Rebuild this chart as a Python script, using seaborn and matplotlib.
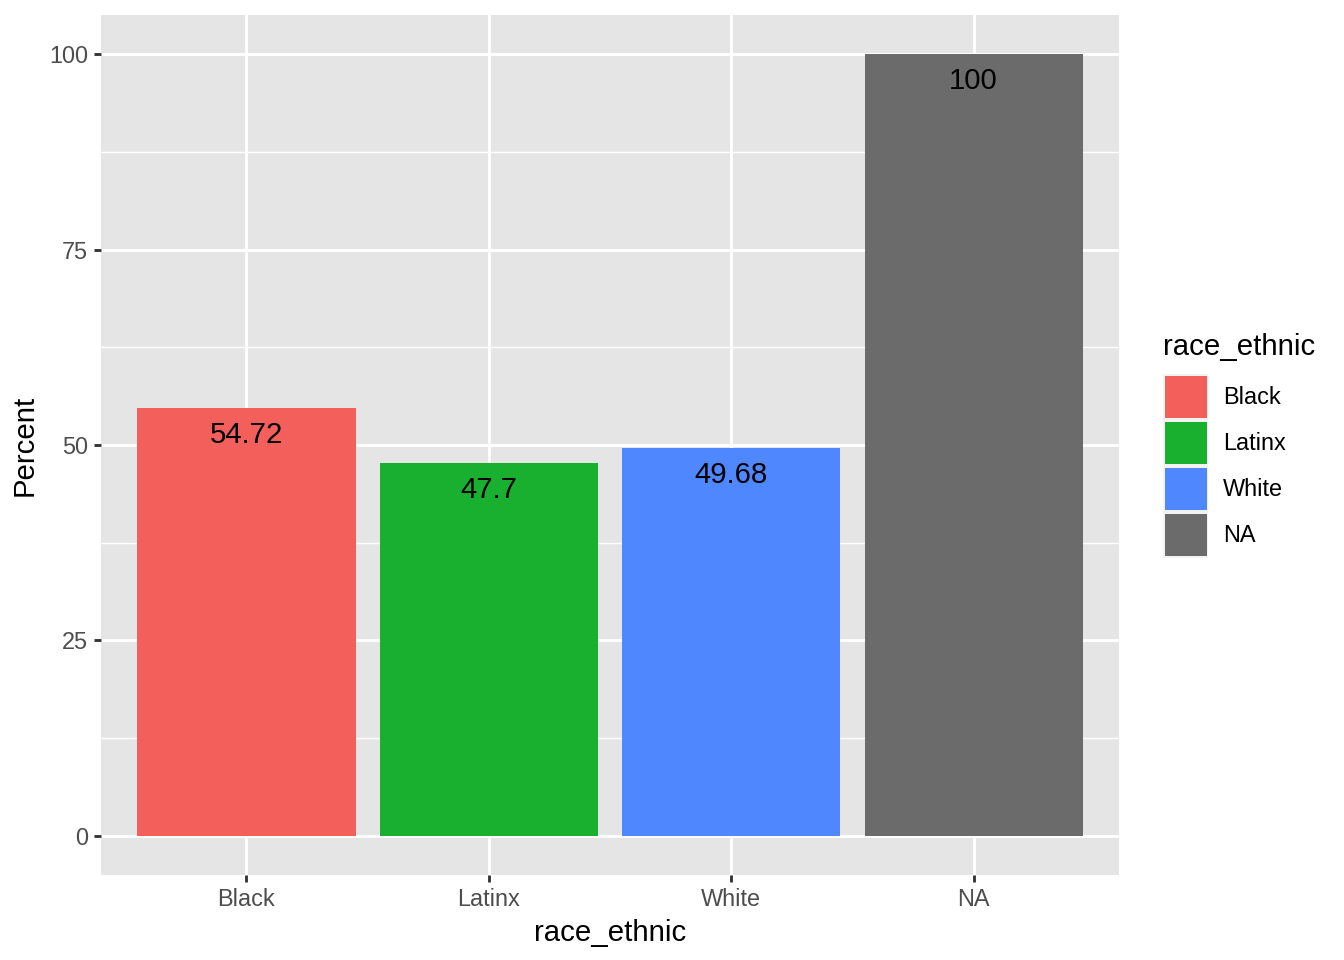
import matplotlib
matplotlib.use("Agg")
import matplotlib.pyplot as plt
from matplotlib.patches import Rectangle
from matplotlib.ticker import MultipleLocator
import seaborn as sns
import pandas as pd

categories = ["Black", "Latinx", "White", "NA"]
percent = [54.72, 47.7, 49.68, 100]
labels = ["54.72", "47.7", "49.68", "100"]
colors = ["#F3605B", "#1AB02F", "#4F87FF", "#6B6B6B"]

sns.set_theme(style="darkgrid")
plt.rcParams["font.family"] = ["Liberation Sans", "DejaVu Sans"]

df = pd.DataFrame({"race_ethnic": categories, "Percent": percent})

W, H = 1344, 960
DPI = 192
fig = plt.figure(figsize=(W / DPI, H / DPI), dpi=DPI)
ax = fig.add_axes([101 / W, 1 - 875 / H, (1119 - 101) / W, (875 - 15) / H])
ax.set_facecolor("#E5E5E5")

sns.barplot(data=df, x="race_ethnic", y="Percent", hue="race_ethnic",
            order=categories, hue_order=categories, palette=colors,
            width=0.9, saturation=1, legend=False, ax=ax, zorder=3,
            linewidth=0, edgecolor="none", err_kws={"linewidth": 0})

for i, (v, t) in enumerate(zip(percent, labels)):
    ax.annotate(t, xy=(i, v), xytext=(0, -27 * 72 / DPI), textcoords="offset points",
                ha="center", va="center", fontsize=11, color="black", zorder=5)

ax.set_xlim(-0.6, 3.6)
ax.set_ylim(-5, 105)
ax.yaxis.set_major_locator(MultipleLocator(25))
ax.yaxis.set_minor_locator(MultipleLocator(12.5))
ax.grid(which="major", color="white", linewidth=1.07, zorder=1)
ax.grid(which="minor", axis="y", color="white", linewidth=0.53, zorder=1)
ax.set_axisbelow(True)
for s in ax.spines.values():
    s.set_visible(False)

ax.tick_params(axis="both", which="major", length=2.75, width=1.07, color="#333333",
               labelcolor="#4D4D4D", labelsize=8.8, pad=2.2, direction="out",
               left=True, bottom=True)
ax.tick_params(axis="y", which="minor", length=0)
ax.set_yticks([0, 25, 50, 75, 100])
ax.set_yticklabels(["0", "25", "50", "75", "100"])

ax.set_xlabel("race_ethnic", fontsize=11, color="black", labelpad=3)
ax.set_ylabel("Percent", fontsize=11, color="black", labelpad=4)

# legend (ggplot-style guide)
def fx(px):
    return px / W

def fy(py):
    return 1 - py / H

fig.text(fx(1163), fy(347), "race_ethnic", fontsize=11, color="black",
         ha="left", va="center")
pitch = 46
for i, (c, name) in enumerate(zip(colors, categories)):
    top = 374 + pitch * i
    fig.patches.append(Rectangle((fx(1163), fy(top + 46)), fx(45), 46 / H,
                                 transform=fig.transFigure, facecolor="#F2F2F2",
                                 edgecolor="none", zorder=1))
    fig.patches.append(Rectangle((fx(1165), fy(top + 44)), fx(42), 42 / H,
                                 transform=fig.transFigure, facecolor=c,
                                 edgecolor="none", zorder=2))
    fig.text(fx(1223), fy(top + 23), name, fontsize=8.8, color="black",
             ha="left", va="center")

fig.savefig("out.png", dpi=DPI, facecolor="white")
